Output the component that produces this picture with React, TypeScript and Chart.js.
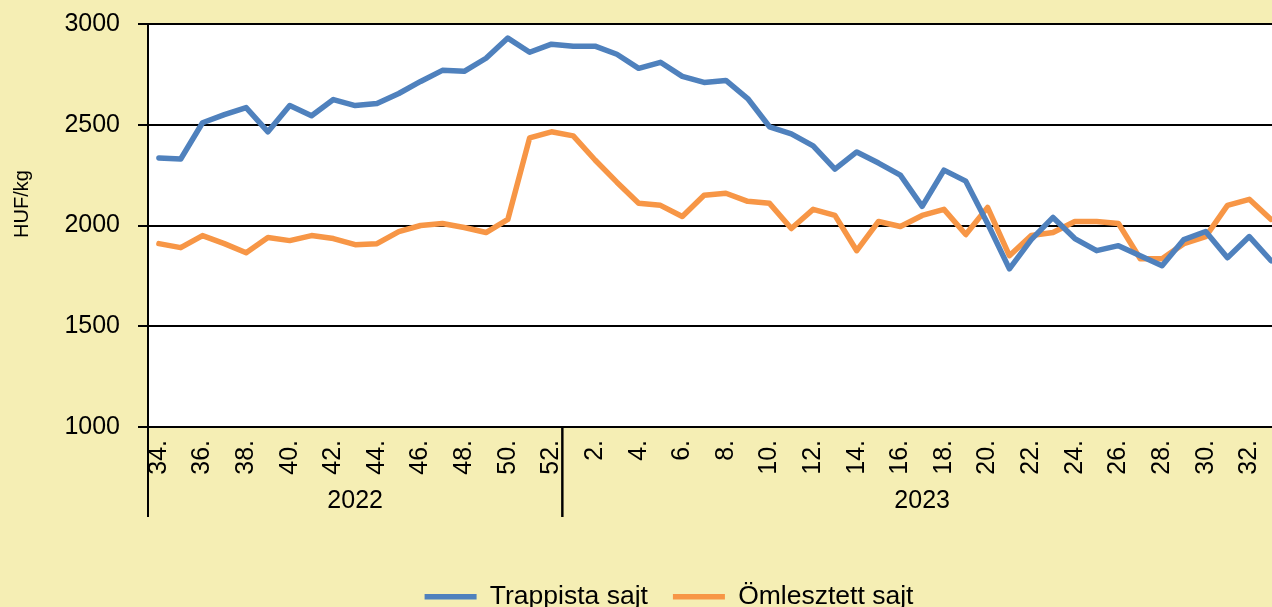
import React, { useEffect, useRef } from "react";
import { Chart, registerables } from "chart.js";

Chart.register(...registerables);

// ---- data ----
const weeks2022 = [34, 35, 36, 37, 38, 39, 40, 41, 42, 43, 44, 45, 46, 47, 48, 49, 50, 51, 52];
const weeks2023 = [1, 2, 3, 4, 5, 6, 7, 8, 9, 10, 11, 12, 13, 14, 15, 16, 17, 18, 19, 20, 21, 22, 23, 24, 25, 26, 27, 28, 29, 30, 31, 32, 33];
const yearLabels = ["2022", "2023"];

const trappista = [
  2335, 2330, 2510, 2550, 2585, 2465, 2595, 2545, 2625, 2595, 2605, 2655, 2715, 2770, 2765, 2830, 2930, 2860, 2900,
  2890, 2890, 2850, 2780, 2810, 2740, 2710, 2720, 2630, 2490, 2455, 2395, 2280, 2365, 2310, 2250, 2095, 2275, 2220,
  2010, 1785, 1930, 2040, 1935, 1875, 1900, 1850, 1800, 1930, 1970, 1840, 1945, 1825,
];
const omlesztett = [
  1910, 1890, 1950, 1910, 1865, 1940, 1925, 1950, 1935, 1905, 1910, 1970, 2000, 2010, 1990, 1965, 2030, 2435, 2465,
  2445, 2325, 2215, 2110, 2100, 2045, 2150, 2160, 2120, 2110, 1985, 2080, 2050, 1875, 2020, 1995, 2050, 2080, 1955,
  2090, 1850, 1950, 1965, 2020, 2020, 2010, 1835, 1835, 1910, 1945, 2100, 2130, 2030,
];
const seriesNames = ["Trappista sajt", "Ömlesztett sajt"];
const yTitle = "HUF/kg";
const yMin = 1000;
const yMax = 3000;
const yStep = 500;

const FONT = "'Liberation Sans', Arial, sans-serif";
const BG = "#F5EEB4";

const weekLabels = [...weeks2022, ...weeks2023].map((w) => `${w}.`);
const weekNums = [...weeks2022, ...weeks2023];
const groups = [
  { label: yearLabels[0], start: 0, count: weeks2022.length },
  { label: yearLabels[1], start: weeks2022.length, count: weeks2023.length },
];

const extrasPlugin = {
  id: "extras",
  beforeDraw(chart: any) {
    const { ctx, chartArea } = chart;
    ctx.save();
    ctx.fillStyle = "#ffffff";
    ctx.fillRect(chartArea.left, chartArea.top, chartArea.right - chartArea.left, chartArea.bottom - chartArea.top);
    ctx.restore();
  },
  afterDraw(chart: any) {
    const { ctx, chartArea } = chart;
    const xs = chart.scales.x;
    const step = xs.getPixelForValue(1) - xs.getPixelForValue(0);
    ctx.save();
    ctx.strokeStyle = "#000";
    ctx.lineWidth = 2;
    ctx.fillStyle = "#000";
    ctx.font = `25px ${FONT}`;
    ctx.textAlign = "center";
    ctx.textBaseline = "middle";
    groups.forEach((g) => {
      const l = xs.getPixelForValue(g.start) - step / 2;
      const r = xs.getPixelForValue(g.start + g.count - 1) + step / 2;
      ctx.beginPath();
      ctx.moveTo(l, chartArea.bottom);
      ctx.lineTo(l, chartArea.bottom + 90);
      ctx.moveTo(r, chartArea.bottom);
      ctx.lineTo(r, chartArea.bottom + 90);
      ctx.stroke();
      ctx.fillText(g.label, (l + r) / 2, chartArea.bottom + 74);
    });
    // y axis title
    ctx.translate(22, 204);
    ctx.rotate(-Math.PI / 2);
    ctx.font = `20px ${FONT}`;
    ctx.fillText(yTitle, 0, 0);
    ctx.restore();
  },
};

export default function App() {
  const ref = useRef<HTMLCanvasElement | null>(null);
  useEffect(() => {
    if (!ref.current) return;
    const chart = new Chart(ref.current, {
      type: "line",
      data: {
        labels: weekLabels,
        datasets: [
          {
            label: seriesNames[0],
            data: trappista,
            borderColor: "#4F81BD",
            backgroundColor: "#4F81BD",
            borderWidth: 5.5,
            pointRadius: 0,
            borderJoinStyle: "round",
            borderCapStyle: "round",
            tension: 0,
          },
          {
            label: seriesNames[1],
            data: omlesztett,
            borderColor: "#F79646",
            backgroundColor: "#F79646",
            borderWidth: 5.5,
            pointRadius: 0,
            borderJoinStyle: "round",
            borderCapStyle: "round",
            tension: 0,
          },
        ],
      },
      options: {
        animation: false,
        responsive: false,
        devicePixelRatio: 1,
        layout: { padding: { top: 24, left: 0, right: 0, bottom: 0 } },
        plugins: {
          tooltip: { enabled: false },
          legend: {
            position: "bottom",
            labels: {
              usePointStyle: true,
              pointStyle: "line",
              pointStyleWidth: 52,
              padding: 25,
              color: "#000",
              font: { size: 26.5, family: FONT },
            },
          },
        },
        scales: {
          x: {
            type: "category",
            offset: true,
            grid: { display: false, drawTicks: false },
            border: { display: true, color: "#000", width: 2 },
            ticks: {
              autoSkip: false,
              minRotation: 90,
              maxRotation: 90,
              padding: 13,
              color: "#000",
              font: { size: 25, family: FONT },
              callback: (_v: any, i: number) => (weekNums[i] % 2 === 0 ? weekLabels[i] : ""),
            },
            afterFit: (s: any) => {
              s.height = 131.5;
            },
          },
          y: {
            min: yMin,
            max: yMax,
            grid: { color: "#000", lineWidth: 2, tickLength: 10, drawTicks: true },
            border: { display: true, color: "#000", width: 2 },
            ticks: {
              stepSize: yStep,
              padding: 18,
              color: "#000",
              font: { size: 25, family: FONT },
              callback: (v: any) => String(v),
            },
            afterFit: (s: any) => {
              s.width = 148;
              s.paddingTop = 0;
              s.paddingBottom = 0;
            },
          },
          yRight: {
            type: "linear",
            position: "right",
            display: true,
            grid: { display: false, drawTicks: false },
            border: { display: false },
            ticks: { display: false },
            afterFit: (s: any) => {
              s.width = 56;
            },
          },
        },
      },
      plugins: [extrasPlugin],
    } as any);
    return () => chart.destroy();
  }, []);
  return (
    <div
      style={{
        position: "fixed",
        left: 0,
        top: 0,
        width: 1272,
        height: 607,
        overflow: "hidden",
        background: BG,
      }}
    >
      <canvas ref={ref} width={1338} height={620} style={{ display: "block" }} />
    </div>
  );
}
